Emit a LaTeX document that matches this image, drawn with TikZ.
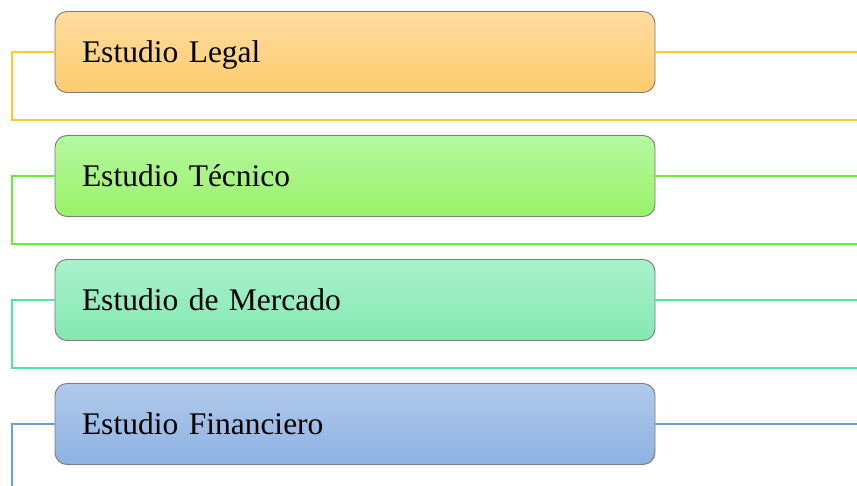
\documentclass[tikz,border=0pt]{standalone}
\usepackage{fontspec}
\setmainfont{Liberation Serif}
\usetikzlibrary{positioning}

\definecolor{boxedge}{HTML}{7A7A7A}
\definecolor{legaltop}{HTML}{FFDC9F}
\definecolor{legalbot}{HTML}{FDCC6E}
\definecolor{legalline}{HTML}{FFC826}
\definecolor{tecnitop}{HTML}{B6F8A0}
\definecolor{tecnibot}{HTML}{98F268}
\definecolor{tecniline}{HTML}{66EE33}
\definecolor{mercatop}{HTML}{A9F1CC}
\definecolor{mercabot}{HTML}{84E8B2}
\definecolor{mercaline}{HTML}{4FE6A2}
\definecolor{finantop}{HTML}{B1CAEB}
\definecolor{finanbot}{HTML}{8DB2E2}
\definecolor{finanline}{HTML}{6C9FD9}

\tikzset{
  estudio/.style={draw=boxedge, line width=0.9pt, rounded corners=12pt,
    text width=546pt, inner xsep=27pt, inner ysep=0pt, minimum height=81pt,
    text height=21pt, text depth=0pt,
    align=left, font=\fontsize{31.5}{36}\selectfont},
  enlace/.style={line width=1.1pt}
}

\begin{document}
\begin{tikzpicture}[x=1pt,y=-1pt]
\clip (0,0) rectangle (857,486);

\pgfmathsetmacro{\paso}{124}
\coordinate (leftedge) at (12,0);
\coordinate (rightedge) at (857,0);

\foreach \txt/\ct/\cb/\cl [count=\i] in {
  Estudio Legal/legaltop/legalbot/legalline,
  Estudio Técnico/tecnitop/tecnibot/tecniline,
  Estudio de Mercado/mercatop/mercabot/mercaline,
  Estudio Financiero/finantop/finanbot/finanline}
{
  \pgfmathsetmacro{\cy}{52 + (\i-1)*\paso}
  \pgfmathsetmacro{\ly}{\cy + 68}
  \node[estudio, top color=\ct, bottom color=\cb] (box\i) at (355,\cy) {\txt};
  \coordinate (low\i) at (857,\ly);
  % brackets to the left, line out to the right
  \draw[enlace, \cl] (box\i.west) -| (leftedge |- low\i) -- (low\i);
  \draw[enlace, \cl] (box\i.east) -- (rightedge |- box\i.east);
}
\end{tikzpicture}
\end{document}
